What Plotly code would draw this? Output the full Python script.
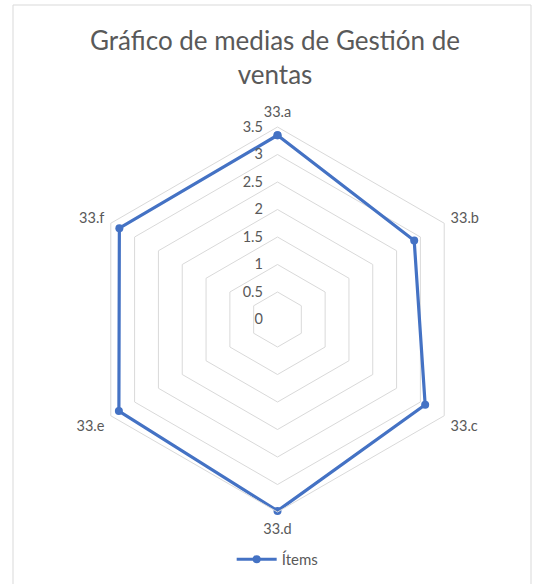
import plotly.graph_objects as go

# Items of the "Gestión de ventas" block and their mean scores
categories = ["33.a", "33.b", "33.c", "33.d", "33.e", "33.f"]
means = [3.35, 2.87, 3.10, 3.48, 3.33, 3.32]
radial_ticks = [0, 0.5, 1, 1.5, 2, 2.5, 3, 3.5]
series_name = "Ítems"

W, H = 534, 584
cx, cy, R = 277.5, 319.5, 192.5  # plot centre and outer radius in pixels

text_grey = "#595959"
grid_grey = "#d9d9d9"
blue = "#4472C4"
font_family = "Lato, 'Open Sans', sans-serif"

fig = go.Figure()
fig.add_trace(go.Scatterpolar(
    r=means + means[:1],
    theta=categories + categories[:1],
    mode="lines+markers",
    name=series_name,
    line=dict(color=blue, width=3.2),
    marker=dict(color=blue, size=8),
    showlegend=True,
))

fig.update_layout(
    width=W, height=H,
    margin=dict(l=0, r=0, t=0, b=0),
    paper_bgcolor="white",
    plot_bgcolor="white",
    font=dict(family=font_family, color=text_grey),
    title=dict(
        text="Gráfico de medias de Gestión de<br>ventas",
        x=0.515, xanchor="center",
        y=1 - 50 / H, yanchor="top",
        font=dict(size=26, color=text_grey, family=font_family),
    ),
    polar=dict(
        domain=dict(x=[(cx - R) / W, (cx + R) / W],
                    y=[1 - (cy + R) / H, 1 - (cy - R) / H]),
        gridshape="linear",
        bgcolor="white",
        radialaxis=dict(
            range=[0, 3.5],
            tickvals=radial_ticks,
            ticktext=[f"{v:g}" for v in radial_ticks],
            angle=90,
            tickangle=90,
            side="counterclockwise",
            showline=False,
            ticks="outside",
            ticklen=9,
            tickcolor="rgba(0,0,0,0)",
            gridcolor=grid_grey,
            gridwidth=1,
            tickfont=dict(size=14.5, color=text_grey),
        ),
        angularaxis=dict(
            rotation=90,
            direction="clockwise",
            showgrid=False,
            showline=True,
            linecolor=grid_grey,
            linewidth=1,
            ticks="outside",
            ticklen=4,
            tickcolor="rgba(0,0,0,0)",
            tickfont=dict(size=14.5, color=text_grey),
        ),
    ),
    legend=dict(
        orientation="h",
        x=0.52, xanchor="center",
        y=1 - 543 / H, yanchor="top",
        font=dict(size=15, color=text_grey),
        itemwidth=40,
    ),
    shapes=[dict(
        type="rect", xref="paper", yref="paper",
        x0=13 / W, x1=531 / W, y0=-0.01, y1=1 - 5 / H,
        line=dict(color=grid_grey, width=1),
        fillcolor="rgba(0,0,0,0)",
    )],
)

fig.write_html("out.html")
